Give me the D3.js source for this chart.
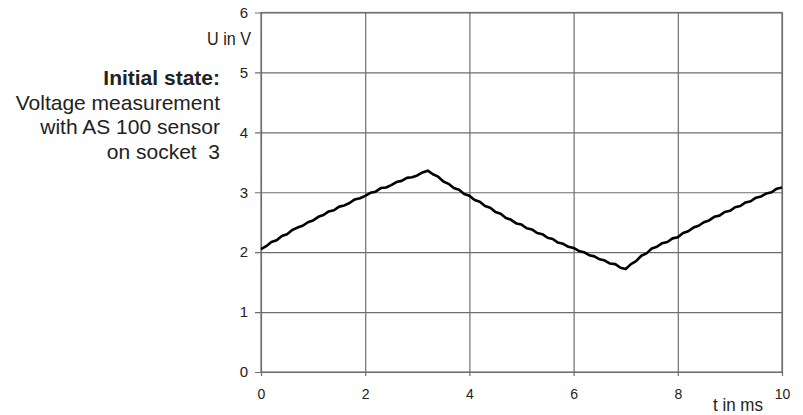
<!DOCTYPE html>
<html lang="en">
<head>
<meta charset="utf-8">
<title>Voltage measurement</title>
<style>
  body { margin: 0; background: #fff; }
  text { font-family: "Liberation Sans", Arial, sans-serif; fill: #222; }
</style>
</head>
<body>
<script src="https://cdn.jsdelivr.net/npm/d3@7"></script>
<script>

// data, 0.1 ms steps
var t_ms = d3.range(0, 101).map(function (i) { return i / 10; });
var u_volts = [
  2.05, 2.10, 2.17, 2.20, 2.27, 2.30, 2.37, 2.41, 2.44, 2.50,
  2.53, 2.59, 2.62, 2.68, 2.70, 2.76, 2.78, 2.82, 2.88, 2.90,
  2.94, 2.99, 3.01, 3.07, 3.08, 3.12, 3.17, 3.19, 3.24, 3.25,
  3.28, 3.33, 3.36, 3.30, 3.26, 3.18, 3.14, 3.07, 3.04, 2.97,
  2.94, 2.87, 2.84, 2.77, 2.74, 2.67, 2.64, 2.57, 2.54, 2.48,
  2.46, 2.40, 2.38, 2.32, 2.30, 2.24, 2.22, 2.16, 2.14, 2.09,
  2.07, 2.02, 2.00, 1.95, 1.93, 1.88, 1.86, 1.81, 1.80, 1.74,
  1.72, 1.80, 1.85, 1.94, 1.98, 2.06, 2.09, 2.15, 2.17, 2.23,
  2.25, 2.32, 2.35, 2.41, 2.44, 2.50, 2.53, 2.59, 2.61, 2.67,
  2.69, 2.75, 2.77, 2.83, 2.85, 2.91, 2.93, 2.98, 3.00, 3.06,
  3.08
];
var x_ticks = [0, 2, 4, 6, 8, 10];
var y_ticks = [0, 1, 2, 3, 4, 5, 6];
var note_lines = ["Initial state:", "Voltage measurement", "with AS 100 sensor", "on socket  3"];

var width = 803;
var height = 415;
// plot box edges (pixels)
var plot_left = 261, plot_right = 782, plot_top = 12.5, plot_bottom = 372;

var svg = d3.select("body").append("svg").attr("width", width).attr("height", height);

var x = d3.scaleLinear().domain([0, 10]).range([plot_left, plot_right]);
var y = d3.scaleLinear().domain([0, 6]).range([plot_bottom, plot_top]);

// horizontal grid + ticks sticking out on the left
var y_axis = d3.axisLeft(y).tickValues(y_ticks).tickFormat(d3.format("d"))
  .tickSize(plot_right - plot_left + 6).tickPadding(7);
svg.append("g")
  .attr("transform", "translate(" + plot_right + ",0)")
  .call(y_axis)
  .call(function (g) {
    g.select(".domain").remove();
    g.selectAll("line").attr("stroke", "#6e6e6e").attr("stroke-width", 1.2);
    g.selectAll("text").style("font-size", "15px").attr("fill", "#222");
  });

// vertical grid + ticks sticking out below
var x_axis = d3.axisBottom(x).tickValues(x_ticks).tickFormat(d3.format("d"))
  .tickSize(plot_bottom - plot_top + 4).tickPadding(13.5);
svg.append("g")
  .attr("transform", "translate(0," + plot_top + ")")
  .call(x_axis)
  .call(function (g) {
    g.select(".domain").remove();
    g.selectAll("line").attr("stroke", "#6e6e6e").attr("stroke-width", 1.2);
    g.selectAll("text").style("font-size", "14px").attr("fill", "#222");
  });

// frame
svg.append("rect")
  .attr("x", plot_left).attr("y", plot_top)
  .attr("width", plot_right - plot_left).attr("height", plot_bottom - plot_top)
  .attr("fill", "none").attr("stroke", "#6e6e6e").attr("stroke-width", 1.2);

// trace
var pts = t_ms.map(function (t, i) { return [t, u_volts[i]]; });
svg.append("path")
  .datum(pts)
  .attr("fill", "none")
  .attr("stroke", "#000")
  .attr("stroke-width", 2.6)
  .attr("stroke-linejoin", "round")
  .attr("d", d3.line().x(function (d) { return x(d[0]); }).y(function (d) { return y(d[1]); }));

// axis labels (squeezed like the original)
svg.append("text")
  .attr("x", 207).attr("y", 45)
  .attr("textLength", 44)
  .attr("lengthAdjust", "spacingAndGlyphs")
  .style("font-size", "19px")
  .text("U in V");

svg.append("text")
  .attr("x", 713).attr("y", 411)
  .attr("textLength", 50)
  .attr("lengthAdjust", "spacingAndGlyphs")
  .style("font-size", "19px")
  .text("t in ms");

// note on the left
var note_y = [85, 110, 134, 159];
svg.append("g").selectAll("text")
  .data(note_lines)
  .enter().append("text")
  .attr("x", 220)
  .attr("y", function (d, i) { return note_y[i]; })
  .attr("text-anchor", "end")
  .style("font-size", "21px")
  .style("font-weight", function (d, i) { return i === 0 ? "bold" : "normal"; })
  .style("white-space", "pre")
  .text(function (d) { return d; });

</script>
</body>
</html>
